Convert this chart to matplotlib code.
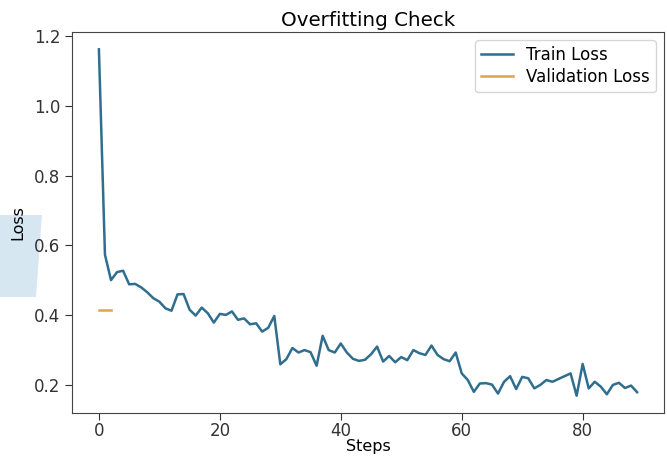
import matplotlib
matplotlib.use("Agg")
import matplotlib.pyplot as plt
from matplotlib.patches import Polygon

train_loss = [
    1.163, 0.573, 0.500, 0.523, 0.527, 0.488, 0.489, 0.479, 0.465, 0.448,
    0.438, 0.419, 0.412, 0.459, 0.460, 0.415, 0.398, 0.421, 0.405, 0.378,
    0.403, 0.400, 0.410, 0.386, 0.390, 0.373, 0.376, 0.352, 0.363, 0.397,
    0.258, 0.273, 0.305, 0.292, 0.299, 0.293, 0.254, 0.340, 0.299, 0.292,
    0.318, 0.292, 0.274, 0.268, 0.271, 0.287, 0.309, 0.266, 0.282, 0.264,
    0.279, 0.270, 0.299, 0.290, 0.285, 0.312, 0.285, 0.273, 0.267, 0.292,
    0.232, 0.213, 0.179, 0.203, 0.204, 0.200, 0.174, 0.208, 0.224, 0.187,
    0.222, 0.218, 0.189, 0.199, 0.213, 0.208, 0.216, 0.224, 0.232, 0.168,
    0.259, 0.189, 0.208, 0.194, 0.172, 0.199, 0.205, 0.190, 0.197, 0.178,
]
train_steps = list(range(len(train_loss)))
val_loss = [0.414, 0.414, 0.414]
val_steps = list(range(len(val_loss)))

W, H = 667, 457
fig = plt.figure(figsize=(W/100, H/100), dpi=100)
ax = fig.add_axes([72/W, 44/H, (664-72)/W, (413-32)/H])

# light blue scan artifact on the left edge (slanted right side)
pts = [(0, 215), (42, 215), (36, 297), (0, 297)]
fig.patches.append(Polygon([(x/W, 1 - y/H) for x, y in pts], closed=True,
                           transform=fig.transFigure, facecolor='#d6e7f2',
                           edgecolor='none', zorder=-1))

ax.plot(train_steps, train_loss, color='#2f6e8e', lw=1.8, label='Train Loss')
ax.plot(val_steps, val_loss, color='#e3a04e', lw=1.8, label='Validation Loss')

ax.set_title('Overfitting Check', fontsize=14.3, pad=4)
ax.set_xlabel('Steps', fontsize=11.5)
ax.xaxis.set_label_coords(0.5, -0.068)
ax.set_ylabel('Loss', fontsize=11.5)
ax.yaxis.set_label_coords(-0.078, 0.5)
ax.set_xticks([0, 20, 40, 60, 80])
ax.set_yticks([0.2, 0.4, 0.6, 0.8, 1.0, 1.2])
ax.tick_params(labelsize=12, colors='#333333', length=5)
ax.tick_params(axis='x', pad=1.5)
for s in ax.spines.values():
    s.set_color('#444444')
ax.legend(loc='upper right', fontsize=12, handlelength=1.9,
          labelspacing=0.25, borderpad=0.35)

fig.savefig('out.png', dpi=100)
